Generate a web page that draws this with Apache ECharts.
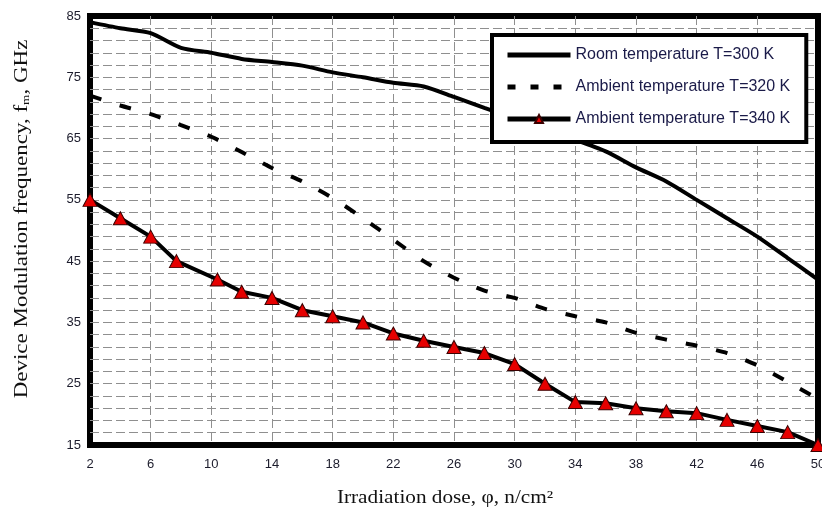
<!DOCTYPE html>
<html>
<head>
<meta charset="utf-8">
<title>Device Modulation frequency</title>
<script src="https://cdn.jsdelivr.net/npm/echarts@6/dist/echarts.min.js"></script>
<style>
    html, body { margin: 0; padding: 0; background: #fff; }
    #chart1 { width: 822px; height: 516px; }
</style>
</head>
<body>
<div id="chart1"></div>
<script>
// 横坐标 (n/cm2)
var doseList = [2, 4, 6, 8, 10, 12, 14, 16, 18, 20, 22, 24, 26, 28, 30, 32, 34, 36, 38, 40, 42, 44, 46, 48, 50];
var doseList340 = [2, 4, 6, 7.7, 10.4, 12, 14, 16, 18, 20, 22, 24, 26, 28, 30, 32, 34, 36, 38, 40, 42, 44, 46, 48, 50];
// 调制频率 GHz
var room300 = [84, 83, 82.2, 79.8, 79, 78, 77.5, 76.9, 75.8, 75, 74.1, 73.5, 71.8, 70, 68.3, 66.5, 64.8, 62.9, 60.3, 58, 55, 52, 49, 45.5, 42];
var amb320 = [72, 70.4, 69, 67.2, 65.3, 62.8, 60.2, 58, 55.3, 52, 48.5, 45, 42.3, 40.2, 39, 37.2, 36, 35, 33.3, 32.2, 31.2, 30, 28, 25.3, 22.5];
var amb340 = [55, 52, 49, 45, 42, 40, 39, 37, 36, 35, 33.2, 32, 31, 30, 28.2, 25, 22, 21.8, 21, 20.5, 20.2, 19.1, 18.1, 17.1, 15];
var seriesNames = ['Room temperature T=300 K', 'Ambient temperature T=320 K', 'Ambient temperature T=340 K'];

// 坐标轴从 2 和 15 开始, 刻度按偏移后的值来算
var X0 = 2, Y0 = 15;
var xMax = 50, yMax = 85, xStep = 4, yStep = 10;

function toPoints(xs, ys) {
    var pts = [];
    for (var i = 0; i < xs.length; i++) {
        pts.push([xs[i] - X0, ys[i] - Y0]);
    }
    return pts;
}

var gridLine = {
    type: [9, 4],
    color: '#8f8f8f',
    width: 1
};
var tickFont = {
    fontFamily: 'Liberation Sans Narrow, Arial Narrow, Liberation Sans',
    fontSize: 13,
    color: '#1c1c2c'
};

var myChart = echarts.init(document.getElementById('chart1'));
var option = {
    animation: false,
    backgroundColor: '#fff',
    grid: {
        left: 90,
        right: 4,
        top: 16,
        bottom: 71,
        outerBoundsMode: 'none',
        containLabel: false,
        show: true,
        borderColor: '#000',
        borderWidth: 6
    },
    legend: {
        orient: 'vertical',
        left: 492,
        top: 35,
        padding: [12, 16, 15, 13],
        backgroundColor: '#fff',
        borderColor: '#000',
        borderWidth: 4,
        itemWidth: 63,
        itemHeight: 10,
        itemGap: 16,
        lineStyle: { width: 5 },
        textStyle: {
            fontFamily: 'Liberation Sans, Arial',
            fontSize: 16,
            color: '#1a1a48'
        },
        data: [
            { name: seriesNames[0], itemStyle: { opacity: 0 } },
            { name: seriesNames[1], itemStyle: { opacity: 0 }, lineStyle: { type: [8, 15] } },
            { name: seriesNames[2] }
        ]
    },
    // 轴标题用 graphic, 原图字体被拉长了
    graphic: [{
        type: 'text',
        x: 445,
        y: 498,
        scaleX: 1.18,
        style: {
            text: 'Irradiation dose, φ, n/cm²',
            font: '18px "Liberation Serif", "Times New Roman", serif',
            fill: '#111',
            align: 'center',
            verticalAlign: 'middle'
        }
    }, {
        type: 'text',
        x: 22,
        y: 219,
        rotation: Math.PI / 2,
        scaleX: 1.21,
        style: {
            text: 'Device Modulation frequency, f{sub|m}, GHz',
            font: '19px "Liberation Serif", "Times New Roman", serif',
            fill: '#111',
            align: 'center',
            verticalAlign: 'middle',
            rich: {
                sub: {
                    font: '11px "Liberation Serif", serif',
                    fill: '#111',
                    verticalAlign: 'bottom',
                    padding: [8, 0, 0, 0]
                }
            }
        }
    }],
    xAxis: {
        type: 'value',
        min: 0,
        max: xMax - X0,
        interval: xStep,
        axisLine: { show: false },
        axisTick: { show: false },
        axisLabel: Object.assign({
            margin: 13,
            formatter: function(v) {
                return v + X0;
            }
        }, tickFont),
        splitLine: {
            show: true,
            showMinLine: false,
            showMaxLine: false,
            lineStyle: gridLine
        }
    },
    yAxis: {
        type: 'value',
        min: 0,
        max: yMax - Y0,
        interval: yStep,
        axisLine: { show: false },
        axisTick: { show: false },
        axisLabel: Object.assign({
            margin: 9,
            formatter: function(v) {
                return v + Y0;
            }
        }, tickFont),
        splitLine: {
            show: true,
            showMinLine: false,
            showMaxLine: false,
            lineStyle: gridLine
        },
        minorTick: { show: false, splitNumber: 5 },
        minorSplitLine: {
            show: true,
            lineStyle: gridLine
        }
    },
    series: [{
        name: seriesNames[0],
        type: 'line',
        data: toPoints(doseList, room300),
        smooth: 0.25,
        showSymbol: false,
        symbol: 'none',
        lineStyle: { color: '#000', width: 4 },
        itemStyle: { color: '#000' },
        z: 3
    }, {
        name: seriesNames[1],
        type: 'line',
        data: toPoints(doseList, amb320),
        smooth: 0.2,
        symbol: 'none',
        lineStyle: { color: '#000', width: 4, type: [12, 19] },
        itemStyle: { color: '#000' },
        z: 3
    }, {
        name: seriesNames[2],
        type: 'line',
        data: toPoints(doseList340, amb340),
        symbol: 'triangle',
        symbolSize: [14, 13],
        clip: false,
        lineStyle: { color: '#000', width: 4 },
        itemStyle: {
            color: '#e60000',
            borderColor: '#3a0000',
            borderWidth: 1
        },
        z: 4
    }]
};

myChart.setOption(option);
</script>
</body>
</html>
